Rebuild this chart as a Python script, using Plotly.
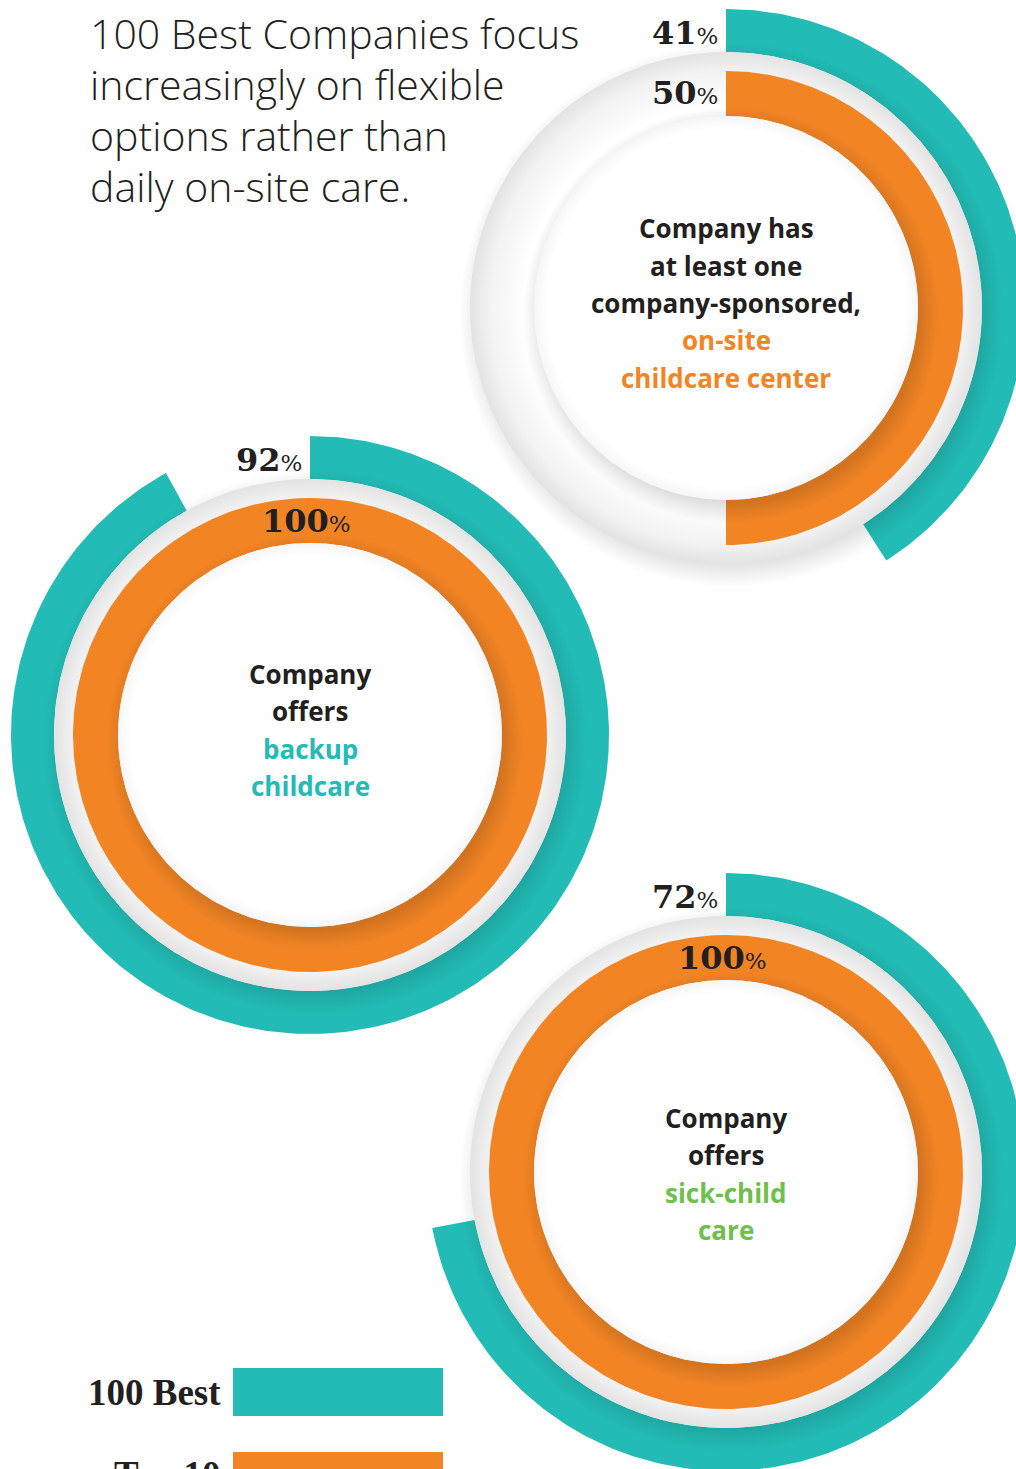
import numpy as np
import plotly.graph_objects as go

# ---------------- data ----------------
categories = ["on-site childcare center", "backup childcare", "sick-child care"]
series_names = ["100 Best", "Top 10"]
best100 = [41, 92, 72]
top10 = [50, 100, 100]

title_lines = ["100 Best Companies focus", "increasingly on flexible",
               "options rather than", "daily on-site care."]

center_lines = [
    ["Company has", "at least one", "company-sponsored,", "on-site", "childcare center"],
    ["Company", "offers", "backup", "childcare"],
    ["Company", "offers", "sick-child", "care"],
]
highlight_from = [3, 2, 2]          # index of first highlighted line

# ---------------- style / layout ----------------
W, H = 1016, 1469
TEAL = "#22BBB5"
ORANGE = "#F28424"
GREEN = "#6CC04B"
DARK = "#231F20"
highlight_colors = [ORANGE, TEAL, GREEN]

centers = [(726, 308), (310, 735), (726, 1172)]
text_dy = [-5, -5, 2]
R_OUT_B, R_IN_B = 299, 256
R_OUT_T, R_IN_T = 237, 192
DISK_R = 256
SH_DX, SH_DY = 5, 7

NUM_FONT = "DejaVu Serif"
SANS = "Open Sans"

fig = go.Figure()


def ring(cx, cy, r_in, r_out, pct, n=400):
    frac = pct / 100.0
    th = np.linspace(0, 2 * np.pi * frac, max(int(n * frac), 8))
    xo = cx + r_out * np.sin(th)
    yo = cy - r_out * np.cos(th)
    xi = cx + r_in * np.sin(th[::-1])
    yi = cy - r_in * np.cos(th[::-1])
    x = np.concatenate([xo, xi, xo[:1]])
    y = np.concatenate([yo, yi, yo[:1]])
    return x, y


def disk(cx, cy, r, n=360):
    th = np.linspace(0, 2 * np.pi, n)
    return cx + r * np.sin(th), cy - r * np.cos(th)


def add_poly(x, y, color=None, gradient=None):
    kw = dict(x=x, y=y, mode="lines", fill="toself", line=dict(width=0),
              hoverinfo="skip", showlegend=False)
    if gradient is not None:
        kw["fillgradient"] = gradient
        kw["fillcolor"] = "rgba(0,0,0,0)"
    else:
        kw["fillcolor"] = color
    fig.add_trace(go.Scatter(**kw))


disk_grad = dict(type="radial",
                 colorscale=[[0, "#ffffff"], [0.78, "#ffffff"], [0.92, "#f3f3f3"], [1, "#e3e3e3"]])
inner_grad = dict(type="radial",
                  colorscale=[[0, "#ffffff"], [0.93, "#ffffff"], [1, "#f6f6f6"]])
shadow_grad = dict(type="radial",
                   colorscale=[[0, "rgba(0,0,0,0.16)"], [0.90, "rgba(0,0,0,0.13)"],
                               [1, "rgba(0,0,0,0)"]])

annotations = []

for i, (cx, cy) in enumerate(centers):
    # 100 Best ring (outer)
    x, y = ring(cx, cy, R_IN_B, R_OUT_B, best100[i])
    add_poly(x, y, TEAL)
    # shadow of backing disk
    dx, dy = disk(cx + SH_DX, cy + SH_DY, DISK_R + 16)
    add_poly(dx, dy, gradient=shadow_grad)
    # shaded backing disk
    dx, dy = disk(cx, cy, DISK_R)
    add_poly(dx, dy, gradient=disk_grad)
    # Top 10 ring (inner)
    x, y = ring(cx, cy, R_IN_T, R_OUT_T, top10[i])
    add_poly(x, y, ORANGE)
    # shadow of inner circle
    dx, dy = disk(cx + SH_DX, cy + SH_DY, R_IN_T + 16)
    add_poly(dx, dy, gradient=shadow_grad)
    # inner white circle
    dx, dy = disk(cx, cy, R_IN_T)
    add_poly(dx, dy, gradient=inner_grad)

    # value labels
    def lab(v):
        return (f"<b>{v}</b><span style='font-size:23px'>%</span>")

    annotations.append(dict(x=cx - 6, y=cy - 275, text=lab(best100[i]), xanchor="right",
                            yanchor="middle", showarrow=False,
                            font=dict(family=NUM_FONT, size=32, color=DARK)))
    if top10[i] >= 100:
        annotations.append(dict(x=cx - 4, y=cy - 214, text=lab(top10[i]), xanchor="center",
                                yanchor="middle", showarrow=False,
                                font=dict(family=NUM_FONT, size=32, color=DARK)))
    else:
        annotations.append(dict(x=cx - 6, y=cy - 215, text=lab(top10[i]), xanchor="right",
                                yanchor="middle", showarrow=False,
                                font=dict(family=NUM_FONT, size=32, color=DARK)))

    # center description
    lines = center_lines[i]
    n = len(lines)
    for j, t in enumerate(lines):
        col = highlight_colors[i] if j >= highlight_from[i] else DARK
        annotations.append(dict(x=cx, y=cy + text_dy[i] + (j - (n - 1) / 2) * 37.3, text=t,
                                xanchor="center", yanchor="middle", showarrow=False,
                                font=dict(family=SANS, size=26, color=col, weight=700)))

# title
for k, t in enumerate(title_lines):
    annotations.append(dict(x=88, y=33 + k * 51, text=t, xanchor="left", yanchor="middle",
                            showarrow=False,
                            font=dict(family=SANS, size=41, color=DARK, weight=300)))

# legend
legend_colors = [TEAL, ORANGE]
legend_y = [1392, 1476]
shapes = []
for k, (name, col, ly) in enumerate(zip(series_names, legend_colors, legend_y)):
    shapes.append(dict(type="rect", xref="x", yref="y", x0=233, x1=443,
                       y0=ly - 24, y1=ly + 24, fillcolor=col, line=dict(width=0)))
    if ly < H:
        annotations.append(dict(x=223, y=ly, text=name, xanchor="right", yanchor="middle",
                                showarrow=False,
                                font=dict(family="Liberation Serif", size=37, color=DARK,
                                          weight=700)))
    else:
        annotations.append(dict(x=223, y=H - 17, text=name, xanchor="right", yanchor="top",
                                showarrow=False,
                                font=dict(family="Liberation Serif", size=37, color=DARK,
                                          weight=700)))

fig.update_layout(
    width=W, height=H,
    margin=dict(l=0, r=0, t=0, b=0),
    paper_bgcolor="white", plot_bgcolor="white",
    xaxis=dict(range=[0, W], visible=False, fixedrange=True),
    yaxis=dict(range=[H, 0], visible=False, fixedrange=True),
    annotations=annotations,
    shapes=shapes,
    showlegend=False,
)

fig.write_html("out.html")
